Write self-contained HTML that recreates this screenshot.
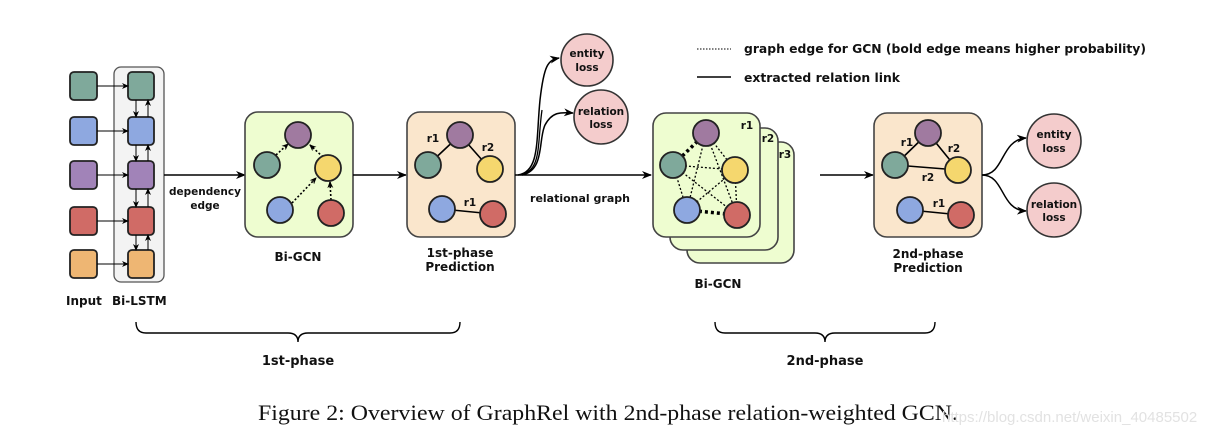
<!DOCTYPE html>
<html><head><meta charset="utf-8"><style>
html,body{margin:0;padding:0;background:#fff;}
svg{display:block;}
text{font-family:"DejaVu Sans","Liberation Sans",sans-serif;font-weight:bold;fill:#111;}
</style></head><body>
<svg width="1217" height="438" viewBox="0 0 1217 438" xmlns="http://www.w3.org/2000/svg">
<defs>
<marker id="ah" markerWidth="10" markerHeight="8" refX="9" refY="4" orient="auto" markerUnits="userSpaceOnUse"><path d="M0,0 L10,4 L0,8 L3,4 Z" fill="#000"/></marker>
<marker id="as" markerWidth="7" markerHeight="6" refX="6" refY="3" orient="auto" markerUnits="userSpaceOnUse"><path d="M0,0 L7,3 L0,6 L2,3 Z" fill="#000"/></marker>
</defs>
<g stroke="#222" stroke-width="1.8">
<rect x="114" y="67" width="50" height="215" rx="7" fill="#f3f3f3" stroke="#555" stroke-width="1.3"/>
<rect x="70" y="72" width="27" height="28" rx="4" fill="#7fa99b"/>
<rect x="70" y="117" width="27" height="28" rx="4" fill="#8ea8e0"/>
<rect x="70" y="161" width="27" height="28" rx="4" fill="#a183b8"/>
<rect x="70" y="207" width="27" height="28" rx="4" fill="#d06b66"/>
<rect x="70" y="250" width="27" height="28" rx="4" fill="#eeb673"/>
<rect x="128" y="72" width="26" height="28" rx="4" fill="#7fa99b"/>
<rect x="128" y="117" width="26" height="28" rx="4" fill="#8ea8e0"/>
<rect x="128" y="161" width="26" height="28" rx="4" fill="#a183b8"/>
<rect x="128" y="207" width="26" height="28" rx="4" fill="#d06b66"/>
<rect x="128" y="250" width="26" height="28" rx="4" fill="#eeb673"/>
</g>
<g stroke="#000" stroke-width="1" marker-end="url(#as)">
<line x1="97" y1="86" x2="128" y2="86"/><line x1="97" y1="131" x2="128" y2="131"/><line x1="97" y1="175" x2="128" y2="175"/><line x1="97" y1="221" x2="128" y2="221"/><line x1="97" y1="264" x2="128" y2="264"/>
<line x1="136" y1="100" x2="136" y2="117"/><line x1="136" y1="145" x2="136" y2="161"/><line x1="136" y1="189" x2="136" y2="207"/><line x1="136" y1="235" x2="136" y2="250"/>
<line x1="148" y1="117" x2="148" y2="100"/><line x1="148" y1="161" x2="148" y2="145"/><line x1="148" y1="207" x2="148" y2="189"/><line x1="148" y1="250" x2="148" y2="235"/>
</g>
<text x="66" y="305" font-size="12">Input</text><text x="112" y="305" font-size="12">Bi-LSTM</text>
<line x1="164" y1="175" x2="245" y2="175" stroke="#000" stroke-width="1.6" marker-end="url(#ah)"/>
<text x="205" y="195" font-size="10.5" text-anchor="middle">dependency</text><text x="205" y="209" font-size="10.5" text-anchor="middle">edge</text>
<rect x="245" y="112" width="108" height="125" rx="13" fill="#eefdd0" stroke="#444" stroke-width="1.6"/>
<g stroke="#000" stroke-width="1.6" stroke-dasharray="2,2" marker-end="url(#as)">
<line x1="276" y1="155" x2="288" y2="144"/><line x1="323" y1="157" x2="310" y2="145"/>
<line x1="292" y1="203" x2="316" y2="178"/><line x1="331" y1="200" x2="330" y2="182"/>
</g>
<g stroke="#222" stroke-width="1.8">
<circle cx="298" cy="135" r="13" fill="#a07aa0"/><circle cx="267" cy="165" r="13" fill="#7fa99b"/><circle cx="328" cy="168" r="13" fill="#f5d76e"/><circle cx="280" cy="210" r="13" fill="#8ea8e0"/><circle cx="331" cy="213" r="13" fill="#d06b66"/>
</g>
<text x="298" y="261" font-size="12" text-anchor="middle">Bi-GCN</text>
<line x1="353" y1="175" x2="406" y2="175" stroke="#000" stroke-width="1.6" marker-end="url(#ah)"/>
<rect x="407" y="112" width="108" height="125" rx="13" fill="#fae6cc" stroke="#444" stroke-width="1.6"/>
<g stroke="#000" stroke-width="1.6"><line x1="460" y1="135" x2="428" y2="165"/><line x1="460" y1="135" x2="490" y2="169"/><line x1="442" y1="209" x2="493" y2="214"/></g>
<g stroke="#222" stroke-width="1.8">
<circle cx="460" cy="135" r="13" fill="#a07aa0"/><circle cx="428" cy="165" r="13" fill="#7fa99b"/><circle cx="490" cy="169" r="13" fill="#f5d76e"/><circle cx="442" cy="209" r="13" fill="#8ea8e0"/><circle cx="493" cy="214" r="13" fill="#d06b66"/>
</g>
<text x="433" y="142" font-size="10.5" text-anchor="middle">r1</text><text x="488" y="151" font-size="10.5" text-anchor="middle">r2</text><text x="470" y="206" font-size="10.5" text-anchor="middle">r1</text>
<text x="460" y="257" font-size="12" text-anchor="middle">1st-phase</text><text x="460" y="271" font-size="12" text-anchor="middle">Prediction</text>
<line x1="515" y1="175" x2="651" y2="175" stroke="#000" stroke-width="1.6" marker-end="url(#ah)"/>
<path d="M518,175 C540,172 536,140 540,100 C544,65 548,60 559,58" fill="none" stroke="#000" stroke-width="1.5" marker-end="url(#ah)"/>
<path d="M522,175 C545,170 538,140 545,125 C552,112 560,112 573,113" fill="none" stroke="#000" stroke-width="1.5" marker-end="url(#ah)"/>
<path d="M520,175 C542,171 537,145 542,110" fill="none" stroke="#000" stroke-width="1.3"/>
<circle cx="587" cy="60" r="26" fill="#f4cccc" stroke="#333" stroke-width="1.6"/>
<text x="587" y="57" font-size="10.5" text-anchor="middle">entity</text><text x="587" y="71" font-size="10.5" text-anchor="middle">loss</text>
<circle cx="601" cy="117" r="27" fill="#f4cccc" stroke="#333" stroke-width="1.6"/>
<text x="601" y="115" font-size="10.5" text-anchor="middle">relation</text><text x="601" y="128" font-size="10.5" text-anchor="middle">loss</text>
<text x="580" y="202" font-size="11" text-anchor="middle">relational graph</text>
<rect x="687" y="142" width="107" height="121" rx="13" fill="#eefdd0" stroke="#444" stroke-width="1.6"/>
<rect x="670" y="128" width="108" height="122" rx="13" fill="#eefdd0" stroke="#444" stroke-width="1.6"/>
<rect x="653" y="113" width="107" height="124" rx="13" fill="#eefdd0" stroke="#444" stroke-width="1.6"/>
<text x="747" y="129" font-size="10.5" text-anchor="middle">r1</text><text x="768" y="142" font-size="10.5" text-anchor="middle">r2</text><text x="785" y="158" font-size="10.5" text-anchor="middle">r3</text>
<g stroke="#000" stroke-width="1.3" stroke-dasharray="2,2" fill="none">
<line x1="706" y1="133" x2="735" y2="170"/><line x1="706" y1="133" x2="687" y2="210"/><line x1="706" y1="133" x2="737" y2="215"/>
<line x1="673" y1="165" x2="735" y2="170"/><line x1="673" y1="165" x2="687" y2="210"/><line x1="673" y1="165" x2="737" y2="215"/>
<line x1="735" y1="170" x2="687" y2="210"/><line x1="735" y1="170" x2="737" y2="215"/>
</g>
<g stroke="#000" stroke-width="3.5" stroke-dasharray="3,3"><line x1="706" y1="133" x2="673" y2="165"/><line x1="687" y1="210" x2="737" y2="215"/></g>
<g stroke="#222" stroke-width="1.8">
<circle cx="706" cy="133" r="13" fill="#a07aa0"/><circle cx="673" cy="165" r="13" fill="#7fa99b"/><circle cx="735" cy="170" r="13" fill="#f5d76e"/><circle cx="687" cy="210" r="13" fill="#8ea8e0"/><circle cx="737" cy="215" r="13" fill="#d06b66"/>
</g>
<text x="718" y="288" font-size="12" text-anchor="middle">Bi-GCN</text>
<line x1="820" y1="175" x2="873" y2="175" stroke="#000" stroke-width="1.6" marker-end="url(#ah)"/>
<rect x="874" y="113" width="108" height="124" rx="13" fill="#fae6cc" stroke="#444" stroke-width="1.6"/>
<g stroke="#000" stroke-width="1.6"><line x1="928" y1="133" x2="895" y2="165"/><line x1="928" y1="133" x2="958" y2="170"/><line x1="895" y1="165" x2="958" y2="170"/><line x1="910" y1="210" x2="961" y2="215"/></g>
<g stroke="#222" stroke-width="1.8">
<circle cx="928" cy="133" r="13" fill="#a07aa0"/><circle cx="895" cy="165" r="13" fill="#7fa99b"/><circle cx="958" cy="170" r="13" fill="#f5d76e"/><circle cx="910" cy="210" r="13" fill="#8ea8e0"/><circle cx="961" cy="215" r="13" fill="#d06b66"/>
</g>
<text x="907" y="146" font-size="10.5" text-anchor="middle">r1</text><text x="954" y="152" font-size="10.5" text-anchor="middle">r2</text><text x="928" y="181" font-size="10.5" text-anchor="middle">r2</text><text x="939" y="207" font-size="10.5" text-anchor="middle">r1</text>
<text x="928" y="258" font-size="12" text-anchor="middle">2nd-phase</text><text x="928" y="272" font-size="12" text-anchor="middle">Prediction</text>
<path d="M982,175 C1005,175 1000,140 1026,138" fill="none" stroke="#000" stroke-width="1.5" marker-end="url(#ah)"/>
<path d="M982,175 C1005,175 1000,210 1026,211" fill="none" stroke="#000" stroke-width="1.5" marker-end="url(#ah)"/>
<circle cx="1054" cy="141" r="27" fill="#f4cccc" stroke="#333" stroke-width="1.6"/>
<text x="1054" y="138" font-size="10.5" text-anchor="middle">entity</text><text x="1054" y="152" font-size="10.5" text-anchor="middle">loss</text>
<circle cx="1054" cy="210" r="27" fill="#f4cccc" stroke="#333" stroke-width="1.6"/>
<text x="1054" y="208" font-size="10.5" text-anchor="middle">relation</text><text x="1054" y="221" font-size="10.5" text-anchor="middle">loss</text>
<line x1="697" y1="49" x2="731" y2="49" stroke="#000" stroke-width="1" stroke-dasharray="1.5,1.5"/>
<text x="744" y="53" font-size="12" textLength="402" lengthAdjust="spacingAndGlyphs">graph edge for GCN (bold edge means higher probability)</text>
<line x1="697" y1="77" x2="731" y2="77" stroke="#000" stroke-width="1.5"/>
<text x="744" y="82" font-size="12" textLength="156" lengthAdjust="spacingAndGlyphs">extracted relation link</text>
<path d="M136,322 Q136,333 146,333 L288,333 Q298,333 298,342 Q298,333 308,333 L450,333 Q460,333 460,322" fill="none" stroke="#000" stroke-width="1.4"/>
<path d="M715,322 Q715,333 725,333 L815,333 Q825,333 825,342 Q825,333 835,333 L925,333 Q935,333 935,322" fill="none" stroke="#000" stroke-width="1.4"/>
<text x="298" y="365" font-size="13" text-anchor="middle">1st-phase</text>
<text x="825" y="365" font-size="13" text-anchor="middle">2nd-phase</text>
<text x="608" y="420" font-size="22" text-anchor="middle" style="font-family:'Liberation Serif',serif;font-weight:normal" textLength="700" lengthAdjust="spacingAndGlyphs">Figure 2: Overview of GraphRel with 2nd-phase relation-weighted GCN.</text>
<text x="942" y="422" font-size="15" style="font-family:'Liberation Sans',sans-serif;font-weight:normal;fill:#e2e2e2">https://blog.csdn.net/weixin_40485502</text>
</svg>
</body></html>
